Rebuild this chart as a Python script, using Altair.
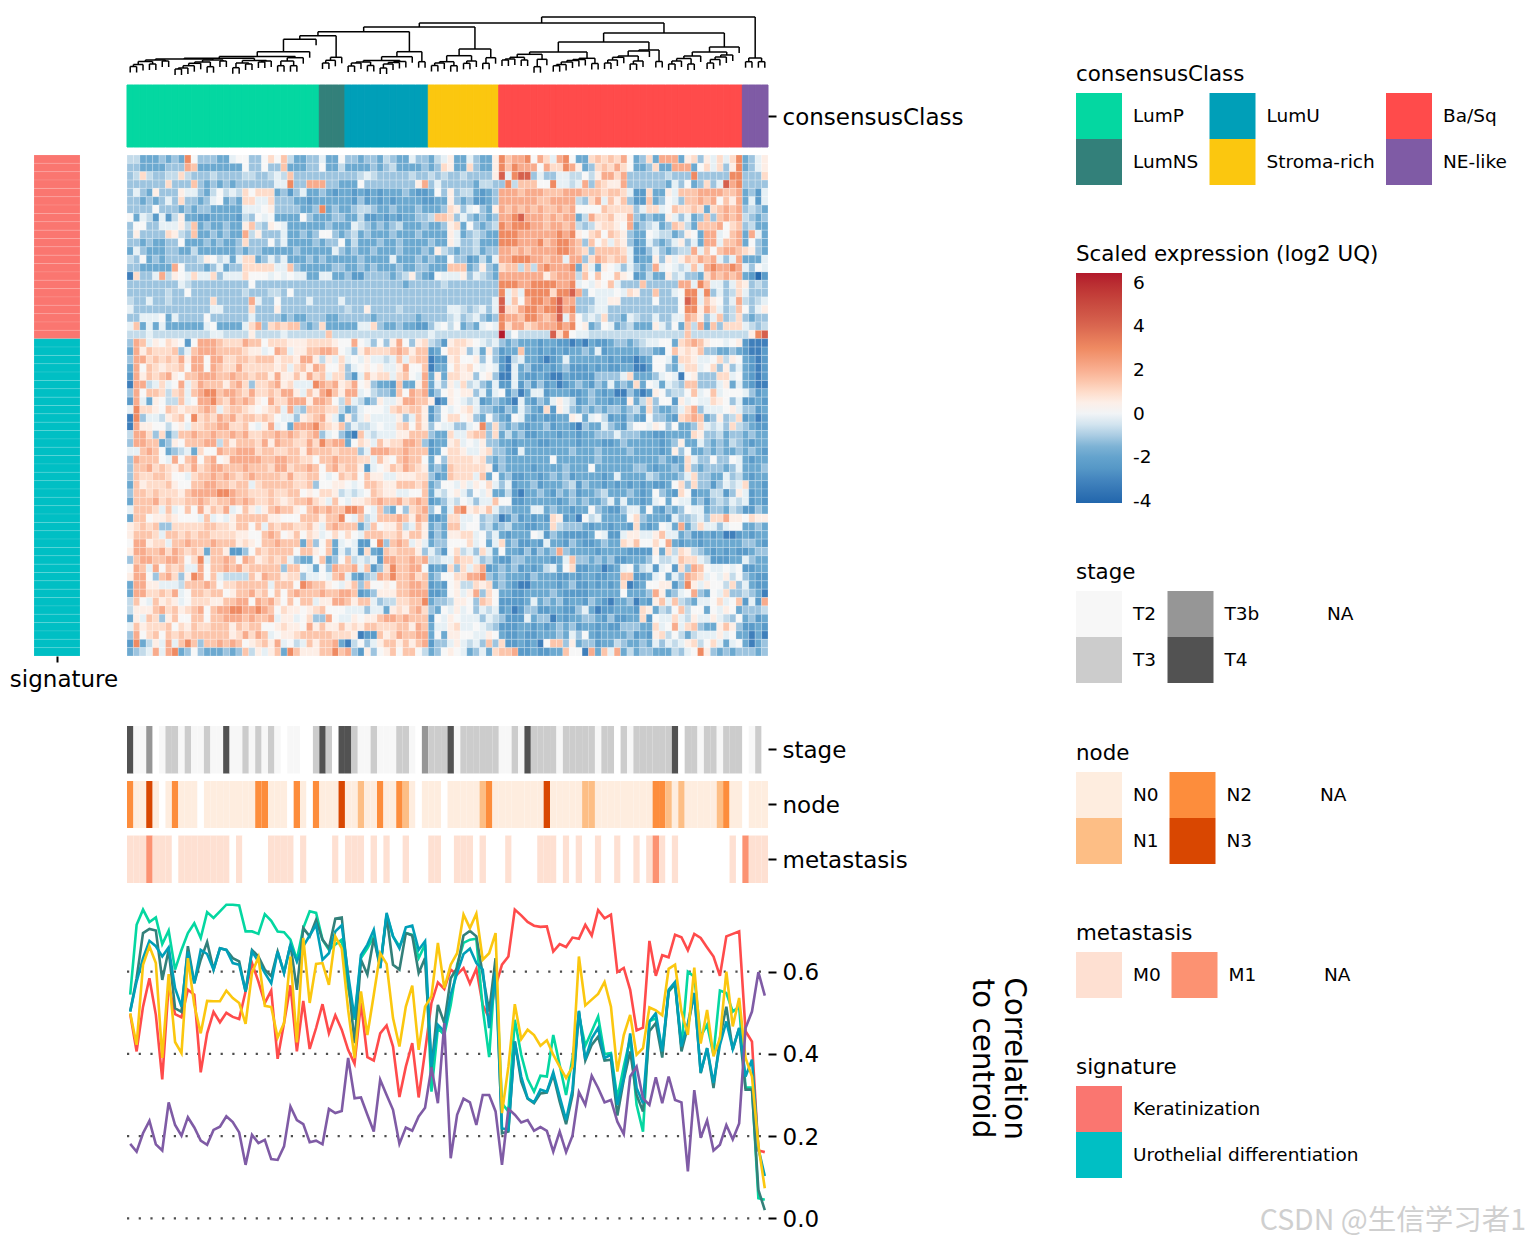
import altair as alt
import pandas as pd

FONT = "DejaVu Sans"
W, H = 1520, 1228

classes = ["LumP", "LumNS", "LumU", "Stroma-rich", "Ba/Sq", "NE-like"]
class_counts = [30, 4, 13, 11, 38, 4]
class_colors = ["#04d7a1", "#33807a", "#009fb8", "#fbc70f", "#ff4b4b", "#7f5ba5"]

signatures = ["Keratinization", "Urothelial differentiation"]
signature_counts = [22, 38]
signature_colors = ["#fa7670", "#00bfc4"]

stage_levels = ["T2", "T3", "T3b", "T4", "NA"]
stage_colors = ["#f7f7f7", "#cccccc", "#969696", "#525252", "#ffffff"]
node_levels = ["N0", "N1", "N2", "N3", "NA"]
node_colors = ["#feeddf", "#fdbe85", "#fd8d3c", "#d94701", "#ffffff"]
meta_levels = ["M0", "M1", "NA"]
meta_colors = ["#fee0d2", "#fc9272", "#ffffff"]

stage_codes = "4 2 2 b _ 2 3 3 2 3 2 2 3 2 2 4 2 2 3 2 3 2 3 2 _ 2 2 _ _ 3 4 3 _ 4 4 3 2 2 3 2 2 2 3 3 2 _ b 3 3 3 4 2 3 3 3 3 3 3 2 2 3 2 4 3 3 3 3 2 3 3 3 3 3 2 3 3 _ 3 2 3 3 3 3 3 3 4 _ 3 3 2 3 3 2 3 3 3 _ 2 3 _".split()
node_codes = "2 0 0 3 0 _ 0 2 0 0 0 _ 0 0 0 0 0 0 0 0 2 2 0 0 0 _ 2 0 _ 2 0 0 0 3 0 0 1 0 0 2 0 0 2 1 0 _ 0 0 0 _ 0 0 0 0 0 1 2 0 0 0 0 0 0 0 0 3 0 0 0 0 0 1 1 0 0 0 0 0 0 0 0 0 2 2 1 0 1 0 0 0 0 0 1 2 0 0 _ 0 0 0".split()
meta_codes = "0 0 0 1 0 0 0 _ 0 0 0 0 0 0 0 0 _ 0 _ _ _ _ 0 0 0 0 _ 0 _ _ _ _ 0 _ 0 0 0 _ 0 _ 0 _ _ 0 _ _ _ 0 0 _ _ 0 0 0 _ 0 _ _ _ 0 _ _ _ _ 0 0 0 _ 0 _ 0 _ _ 0 _ _ 0 _ _ 0 _ 0 1 0 _ 0 _ _ _ _ _ _ _ _ 0 _ 1 0 0 0".split()

level_values = {"z": -4.0, "a": -3.2, "b": -2.4, "c": -1.7, "d": -1.15, "e": -0.7, "f": -0.25, "g": 0.15,
                "h": 0.55, "i": 1.0, "j": 1.5, "k": 2.1, "l": 3.0, "m": 4.2, "n": 6.4}

heat_rows = [
"eecccdcdcl gdddccfggd dgigjeccdd fccgddcddc edccfddcef hccfdcchlj kklgkifklg ccijijikgc dickkkchid hfifilcdfh",
"ddccccdddk jcccccccgd dgddjcccdd gcceccccdc deccccdcdi hccidcchlj lkkkgkiilk hcdijikigc cdicckkkcg ifidhlcdfh",
"deieddeeie dddeddddee ddefejdddd ddddddefed ddddeddede ddeddddhmf lmmdfddffe egehkkikdd ddddedddld ddddllddd i",
"ddddddiddd jdcdcdcddd dddfflddkk kddcccgddd dddddhkdfd ddddceeddl ejjjgglffe fkdjihhkdd ddddcfdgcd idfmkldddd",
"dfdchdddhf fdcegefeig iiicdbdfcc dcbccbcbcb cccdcbbcgd hdeecbcdkk kjkkkjjjkk kjjjijjifb bicchfjjjk kkkjjkcdbf",
"ddcdcdfdid dcdfgcdcii ffidddccbc cccccbdbcb cbccccbbcc hdcdbbcdkk kkkkjjkkkk edikfjhjdb bjcdgfdjjk jkgjhkcfbf",
"ddddgdddcd cddcccccff fghddddccd lcdccdeedc cdcccdcccd ihdfgdchkj kjkjkjjkjk ggggjiiiid fiifgjiiji cijkjkdedc",
"gcfebfbehc cbbccccbed gfgccccgdc ccddccebbc bcbccddejj idfdcdcdkk lmkkkjkjkk cekiijhhkd cdcchfdfcd jdjkjkedcd",
"dggddfffhe jcdccdcchj edhgfccccc cdcccfedcd cdecccdccd hicgdcdelk lllkkjkkjk edehiihgkc defcdjiecj jjkgijdecc",
"dhddddihed jccdcdccke hdddfccdcd ggdcdecdcc cdcccdcccc hfcdedccll lkkkkkklkl hgijgjihdc cgfeecdhgc kkfgjkckfc",
"ddcdccddgc ccdcdccdid ddgdfccccd cddgcecccd ccdccccdcc hfddecccll lkkkljkllk jdjgifihdb cfdcdfhdfc kkfjjkcgdc",
"cfdcccddcc eccccccdcd dcccccdccc ccfdcdccdc ccdcccdche dcddecddkk jkjkkkkllk jidjjjjifb bdfdcdeekf jgjkkjihdc",
"edgcdcdddd dehgefcfii cdfdfcccdc dcccccdccc cfcccdcdcc gddbcecfkk lllkkjkkfk kdikjijjfb cchdhfhjik jkfdfkcccf",
"ddccccckgd ddcdfcddii iiiffjdccc ccddccdcdc ccdccddccc jjjcdhdcij jejeklkkkl cifchgfdfd cdkfgfefjf klkklkfdgf",
"aiddfkehgf iffidfffig ggfgfgffcc ffccdbbddd dcdehdcbgf ffhdfedckk kkkkkhjkkk ejgjggjhgb cecchefddc ikjkjkcbzb",
"ddddddddfe dddddddddg dddddddddd dddddddddd dddcddddde ddddddddll lkkllllkkl fgfhgjfddd jdddddkkfl jffdfihded",
"ddddddeddg dddddddded ddeedgdddd dddddddddd dddddddddd ddddddddlf ifllllillm kdgfffgfih ddjddfgllf ldfdeifddd",
"eddfddeddd dddidddddk fddgddddfd dddfdddddd dddddddddd dddddddfmf jgkllklmkk dddffhhddd ddgdddgmlf jhgdfkedef",
"fddddddddd dddffddddi dddhdddddd ddddeddhdd ddeddddddd ffedefdfmi ikllkllmkl ddeffddddd ddddddgllh kifdejgdfh",
"ddfffgcfdd ddgddddddf ddddcdccdd dccdddddcd dddddcdddd efdefdcdlk kjllkjkmfk gefeiddcfe ddfddffkjh dfjdeidcdd",
"fjcfcfcccc ccfgccccfi kdijijjdcd icccccffid ccdccbbdfg egcdcfgfli kkijkkklkl ghcdgfcdec cchfdgcjek cjdiiifede",
"eeefeeeeee eeeffeeeeh eeeefeeeee ejeeeeeeee eeeeeeefee eeeeeeeene geeeeemilg ffeeeeeeee eeeeeeejee eeeeeeehlm",
"dkjfhgihgb gkkkjiiikj jgiiihhhii iihggkgfdg dhkgdhiedb hiihgfefdc dcccbccbba bacbbcddcd effggcijkj hggfghbaaa",
"ckhjiiijdf jkkkjjjjih hfgkjfhhjj kkjgfdhjii ijkjhjjbcg iihdfchdbc cjccbcbcbc cdcfbccccc ddcbgjhihj ddccdcbaab",
"dkkijijikh kkgkkiijji jjjhiihkkh ehfifgfhff efjfijjabb higghdgdba efccbabcfc cccccbcbba bcggfciihf fgiehgcbab",
"ckgjihiijg kkgkjiikii iiihifijhk jggidfghgh ffhkggjacc gihigfgfba fcdbbcbcdb bbcbcbbcca abggdcfiif gidhdfcbab",
"bkhjijkhgj jkkkjjkjji jjhkhhjhki jfiidbfjhi ifijgfkchc iihhdghdaa fcbbcbaacb bbbddddfic ccdfgfaghd ddiifgcbab",
"akkefifgkf ikjjjhjkid iijkhifffl kjkhikghdc cbjcchkcfd hfiefdcfbb fbdbdbcabc dcbdcfcdci cgfcfedjjd ddfhcfcbaa",
"dkgjjieijf jklljkkjik iijikkhfjh kljhkkfged dcjgkjkbdg hghhdfcfgb dacffbcccb bcdcbcaadb abhgdeegjf gjfgggfdbc",
"bkfchgeejf gkkljikjkj hgkiikkkhk kjgejfecdh ffhkkjjhab hgfefbcdcb afcbdcfhfe bcdccbcbhc eidggbhfgf fihgdfbbcb",
"fliihgjihi ijkjfijjih ghijfkedjj jiiecdfggg fijijjhbdg fghifddcbd cfdcbibhfd cdcdcddcde cidccdfikd fffghfddbc",
"aldffehijg lijikjkijj ijigffdhij khfchdfhff ffhdfjhbdg iighdcgdcb gfcbcbbcch gcfgebcbdc bgddcbijkj cdhdeibcab",
"akhhggeghf iijjkkiijg fhkfgckkkl jihjdfeefg ffijgjhdgf fddfgldidc dcbccdbccb adccfdcbeg gfhgdgccdi fefdiedcbb",
"ekkidicejj kjjkjjkjki ijjkjkjijk dfgdbajfef ffhhjjjdcc iffijjdice cdbbcccbcc bccdddfddd ccbbccccih ddecddcdcc",
"dkkjjcdhgj jjkkejhjjj ikhkjjiiki ljkkcgihfj hiikkjdbcc hifgfhddcc bcccbbcccc bcccbbcdcc cccbcdhccf dcdcedcbcc",
"ffjkjgcdef ciggkjjkkk ijjiijjhkj jjijjjdfkk kjjkjjjbcg iihffhiddc bfcccccccd cccdccccdc cccbchdgcc dcdccdcdcb",
"dkjjjgfkgj kgjkghkkkk kjjkkjjiig jjkjjjiifj hgjkjjgcgd iiiihidcdc ccccccgccc cccdcccccc cccdcbcifd dgddgfcbcc",
"djjkijihji kijkkjjjkj jjikkijjkj gjkijjhbfg hjikjihcdc jiiiiihbdc cccbccccdc ccgccccccd dcbccdcidc dddcdfcccd",
"djiijjiggf ijjkjkjijk jjjjikiijj gfgjijgjhh ffhhhiidbc jiiifjcgcd bbccbcdcdb ccccbcfccc cedcccdfid dccfdecbcc",
"cjhiiijhgg jjkkjjijjf ijjjjjiijd gghhgfgjji hhjjjijcdg gfhfhgifdf bccdbcccde bdccbcbcbc bcbbcgidid dbdfeficcb",
"djjijiiihj kkkkllkjji iijiijjghg iihefefgji hhffggjcfe ghfdgfhcce baccdcbdcd bccdecccdc bcgdcbigbc ceebdhfbcb",
"cjjjkijiij jkjijjkjkj iijihijjki hfjgfhhijk jjkijkjbcd fegfdffjgg bbcccccbcd cdccdfcfcc bcfgcgffcd bdedfefbcb",
"fjjjifjfgj gkhjikfgjh fhjkjjhgjk jkjjllkgfj dcgdijkdgc fklhihjfdd cccffcdccb ccgdcbbdff cgcbdcdgff cddcedbbdc",
"cjjghhihgg gfjfgfhjjj jjhhgggjjj hjjlgfjefj jjkjhkjbbc iiffgdedab dbcbcbihbc agefccccgi dcccbfddef diikhhgihh",
"hijijddiii iijjiihjjg jfjijjiijh fjkjjjcejg hhjefjhcdc jjfggdecde ccbbcciedd dcbccbccbi cbcgfckcei ffdfggccdc",
"hjjjifjjij ijjiiiihhg gjkjghjgih fgigigfjjj iijhjjhbdc hhiifgdfcb cccgfbdcbb bbcgfbbfhh ffhjffcdbb cbcaabcbcc",
"gkkhiifjjk jjjkjjjhih gjjkjjjcjd gjcfgfbbgl djkjfhfcdd gggifgcfic dbbcbfccbd cbbcdccihj ggigkcbccb ccccccddcb",
"hkkjjkikji jicjjhbbdg jijjjjgjjh gjcfdfbicb jijjjhdfdb giefdifcgc cbdbdcdkdc cccbccccbb bbhcieihed cbcbcbbcdd",
"djkkjjkkjg ilfjjkjgkj hijijfdccg jcdgjefefb kkjjkjkeef fjiifdecbb ddccccbcfj ddcdcdbbcc cdgeefjiif ebbbccfdcc",
"gkjfkgjijf fkgjjkjkij jjjjdjjgfc gdkjjkfjbd iljjkkgbcb idifikbcdc dbcbcefcgi bbccabcfgc efbfgbidkj gffgfgbbcc",
"hkkgdjkidh lkgjfeeeej hkjjhiidff gfjkfcbdek jljjkijcdg giikkldcdc ccbdcccbbc bccbbccjjb bcfgcfdkji fgfhegdcbb",
"ckkhhfffej jjkjgiijjj jjfjjjglkj jhgfhjdjgg hgjjkkjbcb gheeihicdc baaccccbcd bbcbcbciab cgghhbdlhf hggeidfcbb",
"ckkiijikfg jjijjghjjk ijgjgjkjjj kjjkkjbcdh hhjjkkkbbc ghfhkdigcc bbccccdcbb bbcccccgcc cdkhcdfgkd cgfiddedca",
"ejgfjhihfg iiihhjjkkg kjkigjgjjf hhkkjhjjfd eeiijjlcdd ehhgdjigbb bbcfcdcdbc cbdcbaccda cbhjfjedcf fgifgjbfbk",
"ehhhjkijhi jkgjkkllkk lkjgihhghi jgggfffdff chihjkidcg fhfgdfefbc abddbbccbb dfcabbcccb ihcedgjegg cgfhgcddde",
"chfjidhjgg jjgjjkkkjk jjkfhhfgid dkgffhghhj kkjkjjjbgf hgfffdfedb bbfcddacbc cddcbdbbcc ibgffifehf fhfedgcdbc",
"fjhiiijgih jiijjjhjij jgghihhgkh jhhjhihjji iijjhkjcff hiffgfedbb bccbcbcdcd bccbcbbddd ccifgkfijd cchjhdbbcb",
"dkgijgjiji jjjjjjhiki kjfghhijjj jjiiihabbj hikjjkkcgc hhggffhgcb bcbbcccdcf dgcbccccdb cbhiegecef ffhfgccaca",
"blcehfkfjl jdjjkjkjgh ijhkfgefjh jjkcaegdfh jjhjhjkbdd fhfefdjdib bcbcagjjdh cddbccedcc dcfdfefhie gifcfgcacd",
"cdefkfklcd gdcccdcdje hfhjcljhhh jjljkdbhdg hjgjjgecdg hgfcdfcijj kbbcbbccjg gakcjfkcec ddcccedfgl hdcdcdddcd",
]

level_stops = [-4.1, -3.2, -2.4, -1.7, -1.15, -0.7, -0.25, 0.15, 0.55, 1.0, 1.5, 2.1, 3.0, 4.2, 6.46]
level_colors = ["#2166ac", "#3f7fbb", "#5a9bc9", "#6ca9d0", "#9dc4df", "#c3dbea", "#e6f0f5", "#f7f7f7",
                "#fdeee6", "#fedcca", "#fcc5ab", "#f8ab8c", "#ef8a62", "#d6604d", "#b2182b"]

corr_lump = [.544,.714,.751,.721,.732,.667,.7,.605,.653,.694,.718,.682,.745,.731,.747,.763,.763,.761,.698,.698,.692,.74,.724,.698,.696,.678,.629,.706,.747,.743,.678,.653,.666,.678,.56,.483,.633,.657,.686,.613,.739,.686,.662,.694,.69,.633,.666,.308,.463,.446,.519,.617,.67,.678,.68,.511,.392,.625,.28,.26,.483,.398,.339,.308,.347,.345,.446,.373,.3,.39,.495,.42,.455,.491,.399,.402,.292,.369,.438,.276,.211,.479,.487,.406,.552,.568,.418,.6,.588,.442,.471,.398,.554,.548,.503,.515,.318,.318,.049,.045]
corr_lumns = [.503,.584,.694,.704,.7,.58,.653,.511,.502,.662,.572,.629,.672,.605,.657,.653,.633,.625,.552,.653,.637,.605,.589,.649,.597,.666,.556,.706,.686,.726,.678,.657,.729,.732,.584,.426,.629,.593,.682,.609,.735,.617,.605,.694,.688,.597,.633,.365,.519,.475,.584,.609,.688,.699,.686,.593,.503,.633,.207,.211,.43,.333,.291,.28,.304,.306,.349,.284,.229,.3,.503,.384,.422,.442,.384,.386,.25,.337,.406,.3,.26,.455,.475,.391,.552,.572,.406,.467,.548,.353,.414,.317,.438,.515,.41,.463,.313,.313,.069,.02]
corr_lumu = [.503,.576,.633,.675,.662,.637,.659,.56,.515,.649,.572,.653,.643,.605,.657,.653,.621,.617,.552,.649,.625,.597,.572,.649,.597,.666,.625,.662,.688,.714,.629,.645,.698,.713,.593,.487,.641,.666,.702,.609,.743,.686,.657,.708,.712,.653,.674,.369,.471,.455,.544,.597,.643,.656,.621,.605,.463,.6,.219,.215,.43,.345,.292,.282,.313,.308,.355,.296,.239,.313,.505,.386,.438,.463,.39,.398,.276,.341,.45,.317,.28,.479,.499,.406,.556,.575,.418,.475,.548,.355,.414,.329,.422,.479,.412,.463,.345,.386,.17,.103]
corr_stroma = [.499,.422,.617,.662,.621,.39,.594,.429,.402,.633,.519,.45,.529,.528,.528,.554,.536,.524,.473,.597,.635,.517,.514,.44,.475,.637,.428,.682,.524,.619,.621,.568,.686,.657,.507,.39,.552,.446,.544,.645,.619,.487,.418,.515,.566,.41,.515,.54,.67,.56,.617,.645,.739,.706,.741,.629,.645,.694,.256,.369,.521,.436,.459,.446,.42,.433,.398,.369,.341,.369,.637,.518,.532,.546,.575,.515,.357,.446,.495,.398,.414,.513,.506,.494,.607,.617,.503,.446,.61,.425,.507,.394,.438,.6,.467,.536,.39,.345,.177,.073]
corr_basq = [.497,.406,.515,.584,.495,.338,.568,.497,.489,.556,.544,.355,.45,.502,.477,.5,.49,.485,.552,.621,.576,.524,.554,.388,.475,.567,.406,.529,.412,.463,.521,.45,.494,.459,.41,.376,.524,.392,.384,.45,.469,.418,.295,.369,.426,.294,.406,.524,.574,.558,.605,.593,.609,.571,.607,.519,.487,.564,.617,.637,.751,.737,.721,.712,.709,.71,.649,.667,.66,.683,.68,.714,.688,.75,.73,.739,.599,.609,.556,.457,.464,.675,.59,.64,.635,.69,.684,.652,.692,.682,.659,.637,.59,.686,.692,.698,.455,.43,.165,.161]
corr_ne = [.181,.162,.207,.237,.18,.165,.282,.227,.201,.246,.221,.189,.179,.215,.223,.248,.234,.209,.13,.203,.183,.191,.144,.142,.175,.272,.239,.229,.185,.189,.18,.266,.256,.261,.39,.292,.294,.252,.211,.337,.3,.264,.181,.221,.213,.248,.269,.367,.28,.475,.146,.252,.291,.282,.227,.3,.3,.26,.13,.266,.252,.233,.239,.213,.222,.213,.162,.211,.161,.201,.307,.276,.347,.317,.282,.288,.235,.205,.345,.369,.292,.276,.343,.28,.345,.288,.282,.114,.312,.196,.238,.165,.179,.227,.192,.231,.463,.503,.599,.542]

# dendrogram: (merge height, left, right); L is a single sample
L = 0
N_A = (15, (13.5, (10.5, (8.5, L, L), L), (11, L, L)), (14, L, L))
N_B = (15, (13, (11.7, (9.3, (7, (6, L, L), L), L), L), (8.3, L, L)), (14, L, L))
N_C = (14.5, (12, (7.3, L, L), (11, L, L)), (14, (13, L, L), L))
N_D = (17.3, (14, (9.3, L, L), (9.3, L, L)), L)
N_LP = (39.3, (35.7, (23.3, (18.5, (16.7, (16, N_A, N_B), N_C), N_D), L), L), (17.7, (14.7, (12, L, L), L), L))
N_E = (14.5, (13, (12, (9, L, L), L), (9.5, L, L)), (13.5, (12.5, (11, (7, L, L), L), L), L))
N_LU = (23.3, (18.3, N_E, L), (13.3, L, L))
N_F = (13.3, (12, (9.5, L, L), L), (9.3, L, L))
N_S = (26, (19.3, N_F, (14, (11.7, L, L), L)), (17.3, (11.7, L, L), L))
N_H = (17.7, (16, (15, L, L), L), (15, L, L))
N_I = (15.7, (8.3, L, L), L)
N_J = (16.7, (15.5, (14.5, (13, (10.5, (9.3, L, L), L), L), L), L), (11.5, L, L))
N_K = (25, (24, (19, (17.7, (15, (12, L, L), L), L), (14, (11, L, L), L)), L), (13.5, L, L))
N_M = (19, (16.5, (14, (11, L, L), L), (11, L, L)), L)
N_P = (20, (18, (15.5, (12, L, L), L), L), L)
N_BA = (42, (33, (23, (20.7, N_H, N_I), N_J), N_K), (28, (23, N_M, N_P), L))
N_NE = (17, (13.3, L, L), (13.3, L, L))
dendro_tree = (58, (52, (48, (43.3, N_LP, N_LU), N_S), N_BA), N_NE)
LEAF_DROP = 6


def layout_tree(tree):
    segments = []
    leaf = [0]

    def walk(node, parent_h):
        if node == L:
            pos = leaf[0] + 0.5
            leaf[0] += 1
            return pos, parent_h - LEAF_DROP
        h, left, right = node
        x0, h0 = walk(left, h)
        x1, h1 = walk(right, h)
        segments.append(dict(x=x0, x2=x1, y=h, y2=h))
        segments.append(dict(x=x0, x2=x0, y=h, y2=h0))
        segments.append(dict(x=x1, x2=x1, y=h, y2=h1))
        return (x0 + x1) / 2, h

    walk(tree, 60)
    return pd.DataFrame(segments)


columns = list(range(100))
class_per_col = [c for c, n in zip(classes, class_counts) for _ in range(n)]
sig_per_row = [s for s, n in zip(signatures, signature_counts) for _ in range(n)]
rows_clean = [(r.replace(" ", "") + "f" * 100)[:100] for r in heat_rows]

heat_df = pd.DataFrame([dict(col=c, row=r, value=level_values[ch])
                        for r, line in enumerate(rows_clean) for c, ch in enumerate(line)])


def page_x(px):
    return px - 8


def page_y(py):
    return py - 8


X_RANGE = [page_x(127), page_x(768)]
AXIS_OFFSET_X = page_x(768) - W
x_band = alt.X("col:O", axis=None, scale=alt.Scale(domain=columns, range=X_RANGE, paddingInner=0, paddingOuter=0))
x_linear = alt.Scale(domain=[0, 100], range=X_RANGE)


def track_axis():
    return alt.Axis(title=None, orient="right", offset=AXIS_OFFSET_X, domain=False, grid=False, ticks=True,
                    tickColor="black", tickWidth=2, tickSize=8, labelFontSize=23, labelColor="black",
                    labelPadding=6, labelFont=FONT, labelOverlap=False, labelFlush=False, labelLimit=400,
                    labelOffset=1.5)


def swatch_legend(title, ypx, columns_n=3):
    return alt.Legend(title=title, orient="none", legendX=page_x(1076), legendY=page_y(ypx),
                      columns=columns_n, direction="vertical", symbolType="square", symbolSize=2116,
                      symbolStrokeWidth=0, symbolOpacity=1, rowPadding=0, columnPadding=10.5, labelOffset=11,
                      labelFontSize=18.5, labelColor="black", labelFont=FONT, titleFont=FONT, titleFontSize=21.4,
                      titleFontWeight="normal", titleColor="black", titlePadding=8, labelLimit=400, titleLimit=500)


def strip(name, codes, levels, colors, top, bottom, legend, solid=False):
    df = pd.DataFrame(dict(col=columns, track=[name] * 100, level=codes))
    encodings = dict(
        x=x_band,
        y=alt.Y("track:N", axis=track_axis(),
                scale=alt.Scale(range=[page_y(top), page_y(bottom)], paddingInner=0, paddingOuter=0)),
        color=alt.Color("level:N", legend=legend, scale=alt.Scale(domain=levels, range=colors)),
    )
    if solid:
        encodings["stroke"] = alt.Stroke("level:N", legend=None, scale=alt.Scale(domain=levels, range=colors))
    return alt.Chart(df).mark_rect(strokeWidth=1 if solid else 0).encode(**encodings)


dendro = alt.Chart(layout_tree(dendro_tree)).mark_rule(color="black", strokeWidth=1.5).encode(
    x=alt.X("x:Q", axis=None, scale=x_linear),
    x2="x2:Q",
    y=alt.Y("y:Q", axis=None, scale=alt.Scale(domain=[0, 60], range=[page_y(75), page_y(15)])),
    y2="y2:Q",
)

consensus = strip("consensusClass", class_per_col, classes, class_colors, 85, 147,
                  swatch_legend("consensusClass", 63.5), solid=True)

heatmap = alt.Chart(heat_df).mark_rect(stroke="white", strokeWidth=0.4, strokeOpacity=0.55).encode(
    x=x_band,
    y=alt.Y("row:O", axis=None, scale=alt.Scale(domain=list(range(60)), range=[page_y(155), page_y(656)],
                                                 paddingInner=0, paddingOuter=0)),
    color=alt.Color("value:Q",
                    scale=alt.Scale(domain=level_stops, range=level_colors, clamp=True),
                    legend=alt.Legend(title="Scaled expression (log2 UQ)", orient="none",
                                      legendX=page_x(1076), legendY=page_y(243.5), gradientLength=230,
                                      gradientThickness=46, values=[-4, -2, 0, 2, 4, 6], labelOffset=11,
                                      labelFontSize=18.5, labelColor="black", labelFont=FONT, titleFont=FONT,
                                      titleFontSize=21.4, titleFontWeight="normal", titleColor="black",
                                      titlePadding=8, gradientStrokeWidth=0, labelOverlap=False, titleLimit=500,
                                      labelExpr="datum.value < 0 ? '-' + abs(datum.value) : '' + datum.value")),
)

sig_df = pd.DataFrame(dict(row=list(range(60)), name=["signature"] * 60, sig=sig_per_row))
signature = alt.Chart(sig_df).mark_rect(stroke="white", strokeWidth=0.3, strokeOpacity=0.35).encode(
    x=alt.X("name:N",
            axis=alt.Axis(title=None, orient="bottom", offset=page_y(656) - H, domain=False, grid=False,
                          tickColor="black", tickWidth=2, tickSize=6, labelFontSize=23, labelColor="black",
                          labelPadding=6, labelAngle=0, labelFont=FONT, labelOffset=7, labelFlush=False,
                          labelOverlap=False),
            scale=alt.Scale(range=[page_x(34), page_x(80)], paddingInner=0, paddingOuter=0)),
    y=alt.Y("row:O", axis=None, scale=alt.Scale(domain=list(range(60)), range=[page_y(155), page_y(656)],
                                                 paddingInner=0, paddingOuter=0)),
    color=alt.Color("sig:N", scale=alt.Scale(domain=signatures, range=signature_colors),
                    legend=swatch_legend("signature", 1056.5, 1)),
)

code_stage = dict(zip(["2", "3", "b", "4", "_"], stage_levels))
code_node = dict(zip(["0", "1", "2", "3", "_"], node_levels))
code_meta = dict(zip(["0", "1", "_"], meta_levels))

stage = strip("stage", [code_stage[c] for c in stage_codes], stage_levels, stage_colors, 726, 773.5,
              swatch_legend("stage", 561.5))
node = strip("node", [code_node[c] for c in node_codes], node_levels, node_colors, 781, 828,
             swatch_legend("node", 742.5))
meta = strip("metastasis", [code_meta[c] for c in meta_codes], meta_levels, meta_colors, 835.5, 883,
             swatch_legend("metastasis", 922.5))

corr_series = {"Ba/Sq": corr_basq, "LumP": corr_lump, "LumNS": corr_lumns, "LumU": corr_lumu,
               "Stroma-rich": corr_stroma, "NE-like": corr_ne}
corr_df = pd.DataFrame([dict(pos=i + 0.5, name=k, corr=v, order=n)
                        for n, (k, vals) in enumerate(corr_series.items()) for i, v in enumerate(vals)])
corr_scale = alt.Scale(domain=[0, 0.8], range=[page_y(1218.3), page_y(889.5)])

corr_grid = alt.Chart(pd.DataFrame(dict(v=[0, 0.2, 0.4, 0.6]))).mark_rule(
    color="#4d4d4d", strokeWidth=2.2, strokeDash=[2.2, 9.5]).encode(
    x=alt.value(page_x(127)), x2=alt.value(page_x(768)),
    y=alt.Y("v:Q", axis=None, scale=corr_scale),
)

corr_lines = alt.Chart(corr_df).mark_line(strokeWidth=2.6).encode(
    x=alt.X("pos:Q", axis=None, scale=x_linear),
    y=alt.Y("corr:Q", scale=corr_scale,
            axis=alt.Axis(orient="right", offset=AXIS_OFFSET_X, values=[0, 0.2, 0.4, 0.6], format=".1f",
                          title=["Correlation", "to centroid"], titleAngle=90, titleFontSize=29.5,
                          titleFontWeight="normal", titleColor="black", titleFont=FONT, titleLineHeight=32,
                          titlePadding=148, titleY=page_y(1058), domain=False, grid=False, tickColor="black",
                          tickWidth=2, tickSize=8, labelFontSize=23, labelColor="black", labelPadding=6,
                          labelFont=FONT, labelOffset=1)),
    color=alt.Color("name:N", legend=None, scale=alt.Scale(domain=classes, range=class_colors)),
    detail="name:N",
    order="order:Q",
)

watermark = alt.Chart(pd.DataFrame(dict(t=["CSDN @生信学习者1"]))).mark_text(
    align="right", baseline="middle", fontSize=28.5, color="#cfcfcf", font="Noto Sans CJK SC").encode(
    text="t:N", x=alt.value(page_x(1526)), y=alt.value(page_y(1220.5)))

chart = alt.layer(
    dendro, consensus, heatmap, signature, stage, node, meta, corr_grid, corr_lines, watermark,
).resolve_scale(
    x="independent", y="independent", color="independent", stroke="independent",
).resolve_axis(
    x="independent", y="independent",
).resolve_legend(
    color="independent",
).properties(
    width=W, height=H, padding=0,
).configure(font=FONT).configure_view(strokeWidth=0, stroke="transparent")

chart.save("out.html", embed_options={"renderer": "svg", "actions": False})
